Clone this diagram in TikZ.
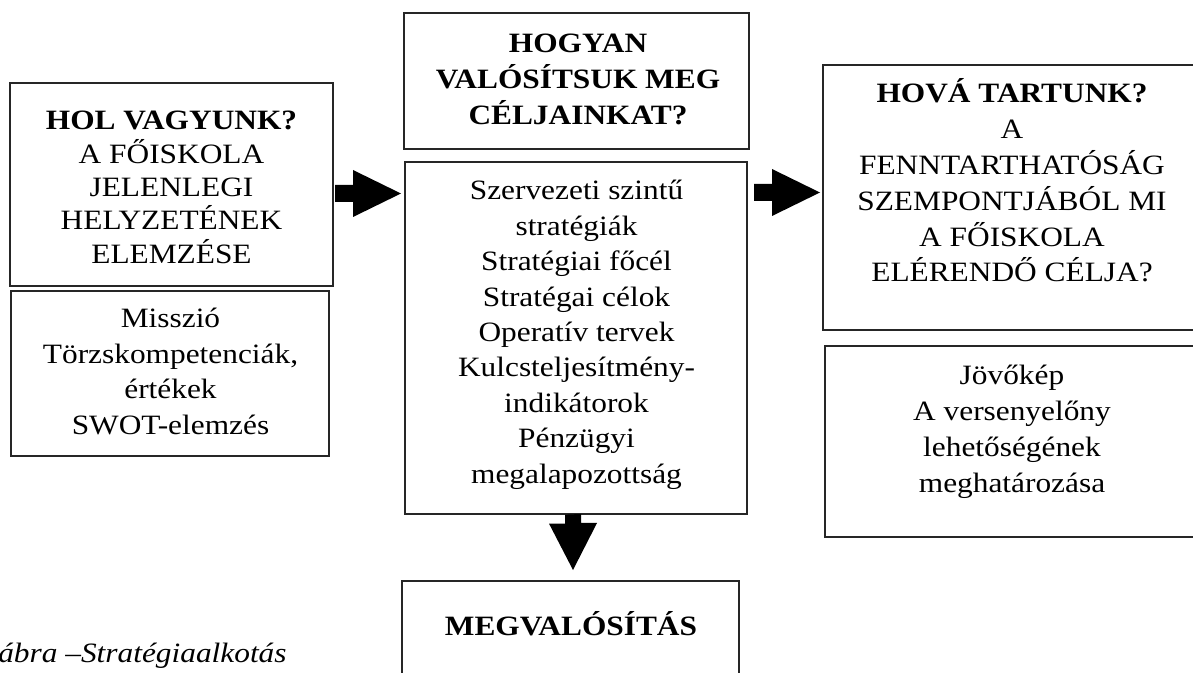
\documentclass[tikz,border=0pt]{standalone}
\usepackage{fontspec}
\setmainfont{Liberation Serif}[FakeStretch=1.12]
\usetikzlibrary{fit}
\begin{document}
\begin{tikzpicture}[x=0.75pt,y=-0.75pt,
  box/.style={draw=black!85,line width=0.9pt,inner sep=0pt},
  txt/.style={align=center,inner sep=0pt,anchor=base,font=\fontsize{21pt}{#1}\selectfont},
  blockarrow/.style={fill=black,draw=none}]
\useasboundingbox (0,0) rectangle (1193,673);
\clip (0,0) rectangle (1193,673);
% boxes
\node[box,fit={(10,83) (333,286)}] (L1) {};
\node[box,fit={(11,291) (329,456)}] (L2) {};
\node[box,fit={(404,13) (749,149)}] (MT) {};
\node[box,fit={(405,162) (747,514)}] (M2) {};
\node[box,fit={(402,581) (739,700)}] (MV) {};
\node[box,fit={(823,65) (1201,330)}] (R1) {};
\node[box,fit={(825,346) (1201,537)}] (R2) {};
% texts (anchor = baseline of the last line)
\node[txt=25pt] (tL1) at (171.5,263.3) {\textbf{HOL VAGYUNK?}\\A FŐISKOLA\\JELENLEGI\\HELYZETÉNEK\\ELEMZÉSE};
\node[txt=26.6pt] (tL2) at (170.5,434.4) {Misszió\\Törzskompetenciák,\\értékek\\SWOT-elemzés};
\node[txt=27pt] (tMT) at (578,125) {\textbf{HOGYAN}\\\textbf{VALÓSÍTSUK MEG}\\\textbf{CÉLJAINKAT?}};
\node[txt=26.55pt] (tM2) at (576.5,483.2) {Szervezeti szintű\\stratégiák\\Stratégiai főcél\\Stratégai célok\\Operatív tervek\\Kulcsteljesítmény-\\indikátorok\\Pénzügyi\\megalapozottság};
\node[txt=26.85pt] (tR1) at (1012,282) {\textbf{HOVÁ TARTUNK?}\\A\\FENNTARTHATÓSÁG\\SZEMPONTJÁBÓL MI\\A FŐISKOLA\\ELÉRENDŐ CÉLJA?};
\node[txt=27pt] (tR2) at (1012,493) {Jövőkép\\A versenyelőny\\lehetőségének\\meghatározása};
\node[txt=26pt] (tMV) at (571,635) {\textbf{MEGVALÓSÍTÁS}};
\node[txt=26pt,anchor=base west] (cap) at (-2,662) {\textit{ábra –Stratégiaalkotás}};
% arrows
\coordinate (a1tail) at (335,193.5);
\coordinate (a1tip) at (401,193.5);
\fill[blockarrow] (a1tail) ++(0,-8.5) -- ++(18,0) -- ++(0,-15) -- (a1tip) -- ++(-48,23.5) -- ++(0,-15) -- ++(-18,0) -- cycle;
\coordinate (a2tail) at (754,192.5);
\coordinate (a2tip) at (820,192.5);
\fill[blockarrow] (a2tail) ++(0,-8.5) -- ++(18,0) -- ++(0,-15) -- (a2tip) -- ++(-48,23.5) -- ++(0,-15) -- ++(-18,0) -- cycle;
\coordinate (a3tail) at (M2.south -| 573,0);
\coordinate (a3tip) at (573,570);
\fill[blockarrow] (a3tail) ++(-8,0) -- ++(0,9) -- ++(-16,0) -- (a3tip) -- ++(24,-47) -- ++(-16,0) -- ++(0,-9) -- cycle;
\end{tikzpicture}
\end{document}
